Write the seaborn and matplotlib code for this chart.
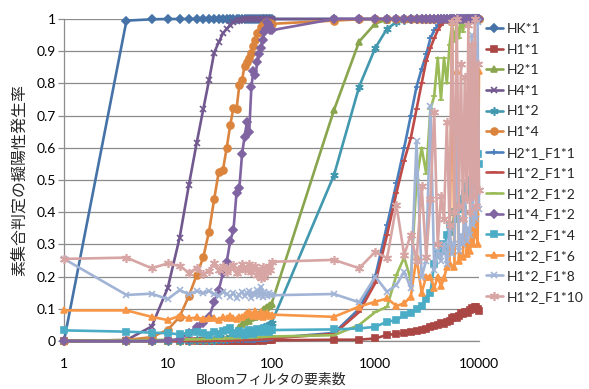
import matplotlib
matplotlib.use("Agg")
import matplotlib.pyplot as plt
from matplotlib.ticker import FixedLocator, NullLocator
import seaborn as sns

# Bloom filter sizes (x axis)
sizes = list(range(1, 101, 3)) + list(range(400, 10001, 300))

# false positive rate per configuration
hk_1 = [0, .995, .999, 1, 1, 1, 1, 1, 1, 1,
        1, 1, 1, 1, 1, 1, 1, 1, 1, 1,
        1, 1, 1, 1, 1, 1, 1, 1, 1, 1,
        1, 1, 1, 1,
        1, 1, 1, 1, 1, 1, 1, 1, 1, 1,
        1, 1, 1, 1, 1, 1, 1, 1, 1, 1,
        1, 1, 1, 1, 1, 1, 1, 1, 1, 1,
        1, 1, 1]
h1_1 = [0, 0, 0, 0, 0, 0, 0, 0, 0, 0,
        0, 0, 0, .001, 0, .001, .001, 0, .001, .001,
        .001, .001, .001, .002, .001, .002, .002, .001, .002, .002,
        .002, .002, .003, .002,
        .004, .004, .008, .019, .022, .024, .029, .031, .034, .037,
        .045, .048, .05, .056, .052, .06, .063, .07, .075, .072,
        .079, .086, .083, .089, .091, .088, .097, .101, .099, .105,
        .107, .1, .092]
h2_1 = [0, 0, 0, .001, .001, .002, .002, .003, .003, .004,
        .005, .006, .008, .012, .02, .035, .045, .052, .06, .065,
        .062, .07, .073, .076, .08, .084, .09, .095, .1, .101,
        .107, .11, .112, .115,
        .717, .93, .986, .998, 1, 1, 1, 1, 1, 1,
        1, 1, 1, 1, 1, 1, 1, 1, 1, 1,
        1, 1, 1, 1, 1, 1, 1, 1, 1, 1,
        1, 1, 1]
h4_1 = [0, .003, .045, .165, .32, .485, .615, .72, .81, .895,
        .928, .955, .97, .98, .99, .993, .996, .998, .999, 1,
        1, 1, 1, 1, 1, 1, 1, 1, 1, 1,
        1, 1, 1, 1,
        1, 1, 1, 1, 1, 1, 1, 1, 1, 1,
        1, 1, 1, 1, 1, 1, 1, 1, 1, 1,
        1, 1, 1, 1, 1, 1, 1, 1, 1, 1,
        1, 1, 1]
h1_2 = [0, 0, 0, 0, .001, .001, .002, .002, .003, .004,
        .005, .006, .007, .008, .01, .011, .013, .015, .017, .02,
        .022, .024, .027, .03, .031, .035, .037, .04, .042, .045,
        .048, .05, .053, .056,
        .515, .79, .91, .97, .99, .997, 1, 1, 1, 1,
        1, 1, 1, 1, 1, 1, 1, 1, 1, 1,
        1, 1, 1, 1, 1, 1, 1, 1, 1, 1,
        1, 1, 1]
h1_4 = [0, .003, .012, .035, .075, .14, .205, .26, .34, .44,
        .525, .53, .6, .67, .725, .72, .795, .81, .855, .865,
        .88, .895, .915, .935, .955, .96, .975, .98, .985, .99,
        .99, .985, .988, .985,
        .995, .999, 1, 1, 1, 1, 1, 1, 1, 1,
        1, 1, 1, 1, 1, 1, 1, 1, 1, 1,
        1, 1, 1, 1, 1, 1, 1, 1, 1, 1,
        1, 1, 1]
h2_1_f1_1 = [0, 0, 0, 0, 0, 0, 0, 0, 0, .001,
             .001, .001, .001, .002, .002, .002, .003, .002, .003, .003,
             .003, .004, .004, .004, .005, .005, .006, .006, .006, .007,
             .007, .008, .008, .009,
             .025, .1, .2, .36, .49, .6, .7, .79, .845, .89,
             .94, .965, .98, .99, 1, 1, 1, 1, 1, 1,
             1, 1, 1, 1, 1, 1, 1, 1, 1, 1,
             1, 1, 1]
h1_2_f1_1 = [0, 0, 0, 0, 0, 0, 0, 0, 0, .001,
             .001, .001, .001, .001, .002, .002, .002, .002, .003, .003,
             .003, .003, .004, .004, .004, .005, .005, .005, .006, .006,
             .006, .007, .007, .008,
             .022, .09, .18, .33, .46, .56, .63, .72, .8, .87,
             .91, .94, .965, .98, .99, .997, 1, 1, 1, 1,
             1, 1, 1, 1, 1, 1, 1, 1, 1, 1,
             1, 1, 1]
h1_2_f1_2 = [0, .002, .003, .004, .004, .005, .005, .006, .006, .007,
             .007, .007, .008, .008, .008, .009, .009, .009, .01, .01,
             .01, .01, .011, .011, .011, .012, .012, .012, .013, .013,
             .013, .014, .014, .014,
             .018, .05, .09, .106, .205, .26, .19, .5, .6, .52,
             .72, .76, .88, .75, .88, .8, .92, .98, .93, .99,
             .94, 1, .96, 1, .98, 1, 1, .99, 1, 1,
             1, 1, 1]
h1_4_f1_2 = [0, 0, 0, .002, .005, .025, .045, .055, .075, .12,
             .158, .21, .246, .31, .345, .46, .475, .58, .635, .68,
             .65, .79, .84, .825, .867, .89, .91, .935, .96, .97,
             .99, .98, .965, .965,
             1, 1, 1, 1, 1, 1, 1, 1, 1, 1,
             1, 1, 1, 1, 1, 1, 1, 1, 1, 1,
             1, 1, 1, 1, 1, 1, 1, 1, 1, 1,
             1, 1, 1]
h1_2_f1_4 = [.033, .029, .026, .024, .021, .025, .028, .024, .02, .027,
             .022, .03, .033, .04, .025, .022, .031, .024, .02, .028,
             .034, .026, .023, .03, .037, .027, .033, .029, .041, .031,
             .036, .027, .035, .034,
             .036, .039, .044, .06, .065, .08, .086, .1, .11, .13,
             .15, .24, .27, .3, .28, .33, .36, .34, .4, .38,
             .42, .44, .41, .46, .48, .45, .5, .48, .52, .5,
             .54, .58, .55]
h1_2_f1_6 = [.095, .095, .075, .065, .078, .07, .073, .068, .072, .07,
             .066, .074, .07, .077, .072, .069, .075, .073, .08, .088,
             .091, .083, .078, .092, .085, .079, .09, .076, .084, .08,
             .087, .082, .078, .082,
             .075, .107, .122, .132, .109, .117, .138, .26, .15, .2,
             .2, .164, .2, .17, .195, .23, .24, .99, .23, .84,
             .25, .267, .26, .45, .27, .3, .28, .4, .3, .33,
             .4, .3, .84]
h1_2_f1_8 = [.255, .143, .147, .13, .158, .145, .155, .148, .156, .145,
             .14, .152, .147, .138, .15, .132, .144, .153, .14, .148,
             .155, .135, .15, .142, .157, .14, .169, .138, .152, .146,
             .14, .148, .143, .142,
             .146, .12, .2, .153, .174, .215, .164, .62, .2, .25,
             .73, .22, .28, .25, .3, .24, .35, .27, .3, .73,
             .28, .33, .3, .45, .31, .35, .33, .95, .36, .42,
             .38, .99, .41]
h1_2_f1_10 = [.255, .259, .226, .241, .233, .212, .226, .207, .218, .241,
              .22, .232, .215, .228, .236, .21, .225, .238, .219, .229,
              .24, .213, .226, .233, .205, .218, .195, .23, .2, .224,
              .215, .232, .22, .246,
              .252, .226, .277, .257, .422, .267, .33, .25, .48, .26,
              .44, .71, .3, .45, .38, .68, .36, .99, .4, 1,
              .42, .86, .38, .82, .44, .98, .4, .92, .45, 1,
              .42, .86, .47]

series_names = ["HK*1", "H1*1", "H2*1", "H4*1", "H1*2", "H1*4",
                "H2*1_F1*1", "H1*2_F1*1", "H1*2_F1*2", "H1*4_F1*2",
                "H1*2_F1*4", "H1*2_F1*6", "H1*2_F1*8", "H1*2_F1*10"]
series_values = [hk_1, h1_1, h2_1, h4_1, h1_2, h1_4,
                 h2_1_f1_1, h1_2_f1_1, h1_2_f1_2, h1_4_f1_2,
                 h1_2_f1_4, h1_2_f1_6, h1_2_f1_8, h1_2_f1_10]

# excel-ish look per series: colour, marker, marker size
styles = [("#4572A7", "D", 4), ("#AA4643", "s", 4.5), ("#89A54E", "^", 5),
          ("#71588F", "x", 4.5), ("#4198AF", (6, 2, 0), 6), ("#DB843D", "o", 5),
          ("#4A7EBB", "+", 5), ("#BE4B48", "_", 4), ("#9BBB59", "_", 4),
          ("#8064A2", "D", 4), ("#4BACC6", "s", 5), ("#F79646", "^", 5),
          ("#A2B4D6", "x", 5), ("#D7A5A4", (6, 2, 0), 6.5)]

sns.set_style("white")
plt.rcParams["font.family"] = ["Lato", "Noto Sans CJK JP", "DejaVu Sans"]

fig, ax = plt.subplots(figsize=(5.89, 3.89), dpi=100)
fig.subplots_adjust(left=64 / 589, right=479 / 589, bottom=1 - 341 / 389, top=1 - 19 / 389)

for i, (name, vals) in enumerate(zip(series_names, series_values)):
    color, marker, ms = styles[i]
    sns.lineplot(x=sizes, y=vals, ax=ax, color=color, marker=marker, markersize=ms,
                 markeredgecolor=color, markerfacecolor=color, markeredgewidth=1.2,
                 linewidth=1.9, label=name, clip_on=False, zorder=3 + i)

ax.set_xscale("log")
ax.set_xlim(1, 10000)
ax.set_ylim(0, 1)
ax.xaxis.set_major_locator(FixedLocator([1, 10, 100, 1000, 10000]))
ax.xaxis.set_minor_locator(NullLocator())
ax.set_xticklabels(["1", "10", "100", "1000", "10000"])
yt = [i / 10 for i in range(11)]
ax.yaxis.set_major_locator(FixedLocator(yt))
ax.set_yticklabels(["0", "0.1", "0.2", "0.3", "0.4", "0.5", "0.6", "0.7", "0.8", "0.9", "1"])

ax.grid(axis="y", color="#8C8C8C", linewidth=0.9)
ax.grid(axis="x", visible=False)
for side in ["top", "right"]:
    ax.spines[side].set_visible(False)
for side in ["left", "bottom"]:
    ax.spines[side].set_color("#8C8C8C")
    ax.spines[side].set_linewidth(0.9)
ax.tick_params(axis="y", length=4, width=0.9, color="#8C8C8C", labelsize=10,
               labelcolor="black", pad=2, direction="out", left=True)
ax.tick_params(axis="x", length=0, labelsize=10, labelcolor="black", pad=12)

ax.set_ylabel("素集合判定の擬陽性発生率", fontsize=11.5, labelpad=6)
ax.set_xlabel("Bloomフィルタの要素数", fontsize=10, labelpad=2)

handles, labels = ax.get_legend_handles_labels()
ax.get_legend().remove()
fig.legend(handles, labels, loc="upper left", bbox_to_anchor=(486 / 589, 1 - 23 / 389),
           frameon=False, fontsize=10, handlelength=1.2, handletextpad=0.3,
           labelspacing=0.62, borderpad=0, borderaxespad=0)

fig.savefig("out.png", dpi=100)
